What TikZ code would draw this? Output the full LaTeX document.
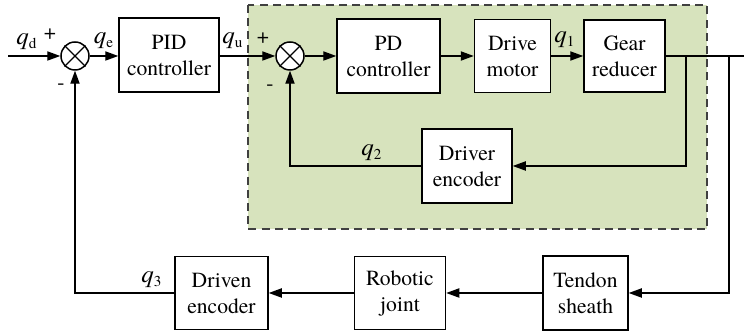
\documentclass[tikz,border=0pt]{standalone}
\usepackage{fontspec}
\setmainfont{TeX Gyre Termes}
\usetikzlibrary{positioning, arrows.meta}

\definecolor{loopgreen}{RGB}{215,227,189}
\definecolor{loopedge}{RGB}{64,64,64}
% signal name: italic q with an upright index
\newcommand{\qsig}[1]{{\fontsize{12.5}{14}\selectfont\itshape q}\textsubscript{#1}}

\begin{document}
\begin{tikzpicture}[x=0.5pt, y=-0.5pt,
	block/.style={rectangle, text centered, align=center, draw=black, fill=white, line width=0.75pt, inner sep=0pt, font=\fontsize{10.8}{13}\selectfont},
	summer/.style={circle, draw=black, fill=white, line width=0.75pt, minimum size=14pt, inner sep=0pt},
	wire/.style={line width=0.65pt},
	sig/.style={wire, -{Triangle[length=6.5pt, width=4.6pt]}},
	lbl/.style={inner sep=0pt, font=\fontsize{10.8}{13}\selectfont}]
	\useasboundingbox (0,0) rectangle (744,335);

	% inner position loop
	\draw[loopedge, fill=loopgreen, line width=1pt, dash pattern=on 4pt off 2.6pt] (248,5) rectangle (707,229);

	\node[summer] (s1) at (75,56) {};
	\node[summer] (s2) at (290,56) {};
	\foreach \s in {s1, s2}
		\draw[wire] (\s.north east) -- (\s.south west) (\s.north west) -- (\s.south east);

	\node[block, minimum width=50pt, minimum height=37pt] (pid) at (169,55) {PID\\controller};
	\node[block, minimum width=51.5pt, minimum height=37pt] (pd) at (388.5,56) {PD\\controller};
	\node[block, minimum width=38pt, minimum height=36.5pt] (motor) [right=16.5pt of pd] {Drive\\motor};
	\node[block, minimum width=40.5pt, minimum height=36pt] (gear) [right=16pt of motor] {Gear\\reducer};
	\node[block, minimum width=45pt, minimum height=37pt] (drvenc) at (467,166) {Driver\\encoder};
	\node[block, minimum width=42.5pt, minimum height=37pt] (tendon) at (585.5,293) {Tendon\\sheath};
	\node[block, minimum width=45.5pt, minimum height=36.5pt] (joint) [left=48pt of tendon] {Robotic\\joint};
	\node[block, minimum width=46.5pt, minimum height=36.5pt] (driven) [left=42.5pt of joint] {Driven\\encoder};

	\coordinate (in) at (8,56);
	\coordinate (out) at (744,56);
	\coordinate (tapa) at (686,56);
	\coordinate (tapb) at (729,56);

	% forward path
	\draw[sig] (in) -- (s1.west);
	\draw[sig] (s1.east) -- (s1.east -| pid.west);
	\draw[sig] (s1.east -| pid.east) -- (s2.west);
	\draw[sig] (s2.east) -- (pd.west);
	\draw[sig] (pd.east) -- (motor.west);
	\draw[sig] (motor.east) -- (gear.west);
	\draw[wire] (gear.east) -- (out);

	% feedback paths
	\draw[sig] (tapa) |- (drvenc.east);
	\draw[sig] (drvenc.west) -| (s2.south);
	\draw[sig] (tapb) |- (tendon.east);
	\draw[sig] (tendon.west) -- (joint.east);
	\draw[sig] (joint.west) -- (driven.east);
	\draw[sig] (driven.west) -| (s1.south);

	% signal names and signs
	\node[lbl] (qd) at (27,42) {\qsig{d}};
	\node[lbl] (qe) at (104,41) {\qsig{e}};
	\node[lbl] (qu) at (233,41) {\qsig{u}};
	\node[lbl] (q1) at (565,40) {\qsig{1}};
	\node[lbl] (q2) at (372,153) {\qsig{2}};
	\node[lbl] (q3) at (152,280) {\qsig{3}};
	\node[lbl] (p1) at (50,34) {+};
	\node[lbl] (m1) at (61,87) {-};
	\node[lbl] (p2) at (263,38) {+};
	\node[lbl] (m2) at (270,88) {-};
\end{tikzpicture}
\end{document}
